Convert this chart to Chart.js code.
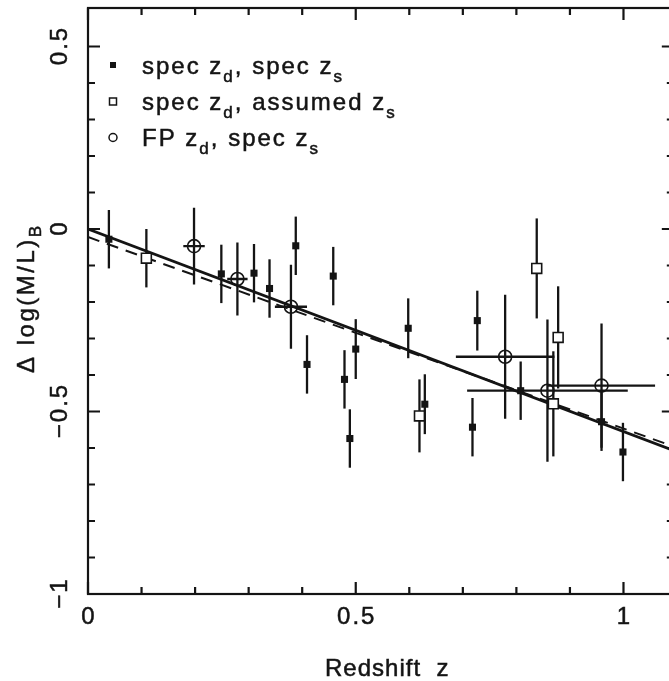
<!DOCTYPE html>
<html>
<head>
<meta charset="utf-8">
<title>M/L evolution with redshift</title>
<script src="https://cdn.jsdelivr.net/npm/chart.js@4/dist/chart.umd.min.js"></script>
<style>
  html, body { margin: 0; padding: 0; background: #fff; overflow: hidden; }
  #chart { display: block; }
</style>
</head>
<body>
<canvas id="chart" width="669" height="681"></canvas>
<script>
// spec z_d, spec z_s  (filled squares)
const specX    = [0.039, 0.249, 0.310, 0.339, 0.388, 0.409, 0.458, 0.479, 0.489, 0.500, 0.598, 0.629, 0.718, 0.727, 0.808, 0.959, 0.999];
const specY    = [-0.028, -0.123, -0.121, -0.163, -0.046, -0.371, -0.129, -0.412, -0.574, -0.329, -0.272, -0.480, -0.543, -0.251, -0.443, -0.528, -0.611];
const specYErr = [0.08, 0.08, 0.08, 0.08, 0.08, 0.08, 0.08, 0.08, 0.08, 0.082, 0.082, 0.082, 0.08, 0.082, 0.08, 0.08, 0.08];

// spec z_d, assumed z_s  (open squares)
const assumedX    = [0.109, 0.619, 0.838, 0.869, 0.878];
const assumedY    = [-0.080, -0.512, -0.108, -0.479, -0.297];
const assumedYErr = [0.08, 0.10, 0.137, 0.144, 0.14];

// FP z_d, spec z_s  (open circles, with x errors)
const fpX    = [0.198, 0.279, 0.379, 0.779, 0.858, 0.959];
const fpY    = [-0.047, -0.137, -0.213, -0.350, -0.443, -0.429];
const fpYErr = [0.105, 0.10, 0.115, 0.17, 0.195, 0.17];
const fpXErr = [0.02, 0.019, 0.03, 0.092, 0.15, 0.10];

// fitted relations (end points)
const fitX       = [0, 1.094];
const solidFitY  = [0, -0.607];
const dashedFitY = [-0.022, -0.596];

// axes: visible x range, and where the (cropped) right frame edge would be
const xMin = 0, xMax = 1.085, xFrameMax = 1.094;
const yMin = -1, yMax = 0.6055;
const xTickValues = [0, 0.5, 1];
const xTickLabels = ['0', '0.5', '1'];
const yTickValues = [0.5, 0, -0.5, -1];
const yTickLabels = ['0.5', '0', '\u22120.5', '\u22121'];
const xMinorTicks = [0.1, 0.2, 0.3, 0.4, 0.6, 0.7, 0.8, 0.9];
const yMinorTicks = [0.4, 0.3, 0.2, 0.1, -0.1, -0.2, -0.3, -0.4, -0.6, -0.7, -0.8, -0.9];

const legendLabels = ['spec z_d, spec z_s', 'spec z_d, assumed z_s', 'FP z_d, spec z_s'];
const xTitle = 'Redshift  z';
const yTitle = '\u0394 log(M/L)_B';

const INK = '#141414';
const FONT = '"Liberation Sans", Arial, sans-serif';

function pts(xs, ys) {
    return xs.map((x, i) => ({ x: x, y: ys[i] }));
}

// fill + thin stroke, the scanned original has heavy type
function ink(ctx, s, x, y) {
    ctx.fillText(s, x, y);
    ctx.strokeText(s, x, y);
}

// text with single-character subscripts written as _c
function drawRich(ctx, text, x, y, size, subSize, subDrop) {
    const parts = text.split(/_(.)/);
    let cx = x;
    parts.forEach((p, i) => {
        if (!p) return;
        const sub = i % 2 === 1;
        ctx.font = (sub ? subSize : size) + 'px ' + FONT;
        ink(ctx, p, cx, y + (sub ? subDrop : 0));
        cx += ctx.measureText(p).width;
    });
}

/**
 * Vertical (and horizontal) error bars, drawn under the markers
 */
const errorBars = {
    id: 'errorBars',
    beforeDatasetsDraw(chart) {
        const ctx = chart.ctx;
        const xs = chart.scales.x, ys = chart.scales.y;
        ctx.save();
        ctx.strokeStyle = INK;
        ctx.lineWidth = 2.3;
        chart.data.datasets.forEach(ds => {
            if (!ds.yErr) return;
            ds.data.forEach((p, i) => {
                const px = xs.getPixelForValue(p.x);
                const py = ys.getPixelForValue(p.y);
                ctx.beginPath();
                ctx.moveTo(px, ys.getPixelForValue(p.y + ds.yErr[i]));
                ctx.lineTo(px, ys.getPixelForValue(p.y - ds.yErr[i]));
                if (ds.xErr) {
                    ctx.moveTo(xs.getPixelForValue(p.x - ds.xErr[i]), py);
                    ctx.lineTo(xs.getPixelForValue(p.x + ds.xErr[i]), py);
                }
                ctx.stroke();
            });
        });
        ctx.restore();
    }
};

/**
 * Box frame with inward ticks on all sides, tick labels, titles and legend
 */
const frame = {
    id: 'frame',
    afterDraw(chart) {
        const ctx = chart.ctx;
        const a = chart.chartArea;
        const xs = chart.scales.x, ys = chart.scales.y;
        const right = xs.getPixelForValue(xFrameMax);
        ctx.save();
        ctx.strokeStyle = INK;
        ctx.fillStyle = INK;
        ctx.lineWidth = 2.2;
        ctx.strokeRect(a.left, a.top, right - a.left, a.bottom - a.top);

        ctx.beginPath();
        const xTick = (v, len) => {
            const px = xs.getPixelForValue(v);
            ctx.moveTo(px, a.bottom); ctx.lineTo(px, a.bottom - len);
            ctx.moveTo(px, a.top); ctx.lineTo(px, a.top + len);
        };
        const yTick = (v, len) => {
            const py = ys.getPixelForValue(v);
            ctx.moveTo(a.left, py); ctx.lineTo(a.left + len, py);
            ctx.moveTo(right, py); ctx.lineTo(right - len, py);
        };
        xTickValues.forEach(v => xTick(v, 12));
        xMinorTicks.forEach(v => xTick(v, 7));
        yTickValues.forEach(v => yTick(v, 12));
        yMinorTicks.forEach(v => yTick(v, 7));
        ctx.stroke();

        ctx.lineWidth = 0.5;
        ctx.letterSpacing = '2px';
        ctx.font = '24px ' + FONT;
        ctx.textBaseline = 'alphabetic';
        ctx.textAlign = 'center';
        xTickValues.forEach((v, i) => {
            ink(ctx, xTickLabels[i], xs.getPixelForValue(v) + 1, 624);
        });
        yTickValues.forEach((v, i) => {
            ctx.save();
            ctx.translate(67, ys.getPixelForValue(v));
            ctx.rotate(-Math.PI / 2);
            ink(ctx, yTickLabels[i], 1, 0);
            ctx.restore();
        });

        // axis titles
        ctx.textAlign = 'left';
        ctx.letterSpacing = '1px';
        drawRich(ctx, xTitle, 325, 676, 24, 17, 7);
        ctx.letterSpacing = '2.5px';
        ctx.save();
        ctx.translate(34, 373);
        ctx.rotate(-Math.PI / 2);
        drawRich(ctx, yTitle, 0, 0, 24, 17, 7);
        ctx.restore();

        // legend
        const rowBase = [73.5, 110, 146];
        ctx.letterSpacing = '2px';
        rowBase.forEach((b, i) => {
            const mx = 113, my = b - 8.5;
            ctx.lineWidth = 1.5;
            if (i === 0) {
                ctx.fillRect(mx - 3, my - 3, 6, 6);
            } else if (i === 1) {
                ctx.strokeRect(mx - 3.5, my - 3.5, 7, 7);
            } else {
                ctx.beginPath();
                ctx.arc(mx, my, 4, 0, Math.PI * 2);
                ctx.stroke();
            }
            ctx.lineWidth = 0.5;
            drawRich(ctx, legendLabels[i], 142, b, 24, 17, 8);
        });
        ctx.restore();
    }
};

new Chart(document.getElementById('chart'), {
    type: 'scatter',
    data: {
        datasets: [
            {
                label: 'spec z_d, spec z_s',
                data: pts(specX, specY),
                yErr: specYErr,
                pointStyle: 'rect',
                pointRadius: 5,
                backgroundColor: INK,
                borderColor: INK,
                borderWidth: 0
            },
            {
                label: 'spec z_d, assumed z_s',
                data: pts(assumedX, assumedY),
                yErr: assumedYErr,
                pointStyle: 'rect',
                pointRadius: 7,
                backgroundColor: '#ffffff',
                borderColor: INK,
                borderWidth: 1.6
            },
            {
                label: 'FP z_d, spec z_s',
                data: pts(fpX, fpY),
                yErr: fpYErr,
                xErr: fpXErr,
                pointStyle: 'circle',
                pointRadius: 6.5,
                backgroundColor: 'rgba(0,0,0,0)',
                borderColor: INK,
                borderWidth: 1.6
            },
            {
                label: 'fit',
                data: pts(fitX, solidFitY),
                showLine: true,
                pointRadius: 0,
                borderColor: INK,
                borderWidth: 2.8
            },
            {
                label: 'fit (dashed)',
                data: pts(fitX, dashedFitY),
                showLine: true,
                pointRadius: 0,
                borderColor: INK,
                borderWidth: 2,
                borderDash: [12, 8]
            }
        ]
    },
    options: {
        responsive: false,
        animation: false,
        devicePixelRatio: 1,
        layout: {
            autoPadding: false,
            padding: { left: 88, right: 0, top: 8, bottom: 87 }
        },
        plugins: {
            legend: { display: false },
            tooltip: { enabled: false }
        },
        scales: {
            x: { type: 'linear', min: xMin, max: xMax, display: false },
            y: { type: 'linear', min: yMin, max: yMax, display: false }
        }
    },
    plugins: [errorBars, frame]
});
</script>
</body>
</html>
